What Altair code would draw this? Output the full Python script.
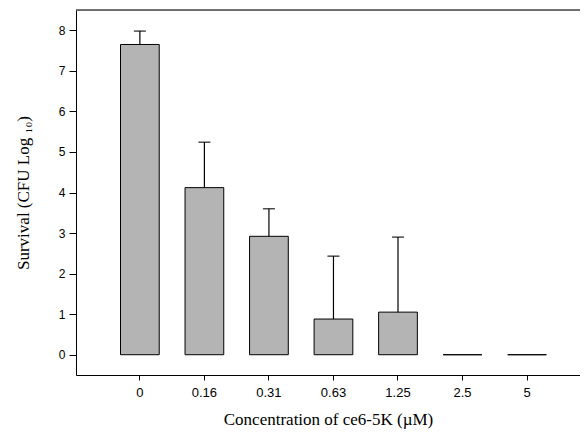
import altair as alt
import pandas as pd

conc = ["0", "0.16", "0.31", "0.63", "1.25", "2.5", "5"]
survival = [7.65, 4.12, 2.92, 0.88, 1.05, 0.0, 0.0]
err_top = [7.98, 5.24, 3.60, 2.43, 2.90, 0.0, 0.0]

df = pd.DataFrame({"conc": conc, "surv": survival, "err": err_top})

W, H = 504, 365

xenc = alt.X(
    "conc:N",
    sort=conc,
    scale=alt.Scale(paddingInner=0.4, paddingOuter=0.605, align=0.57),
    axis=alt.Axis(
        title="Concentration of ce6-5K (\u00b5M)",
        labelAngle=0,
        labelFont="Liberation Sans",
        labelFontSize=13,
        labelColor="black",
        labelPadding=6,
        tickSize=5,
        tickColor="black",
        domainColor="black",
        titleFont="Liberation Serif",
        titleFontSize=17,
        titleFontWeight="normal",
        titleColor="black",
        titlePadding=12,
    ),
)

yscale = alt.Scale(domain=[-0.5, 8.5], nice=False, zero=False)
yaxis = alt.Axis(
    title="Survival (CFU Log \u2081\u2080)",
    values=[0, 1, 2, 3, 4, 5, 6, 7, 8],
    grid=False,
    labelFont="Liberation Sans",
    labelFontSize=12,
    labelColor="black",
    labelPadding=4,
    tickSize=7,
    tickColor="black",
    domainColor="black",
    titleFont="Liberation Serif",
    titleFontSize=17,
    titleFontWeight="normal",
    titleColor="black",
    titlePadding=26,
)

base = alt.Chart(df)

bars = base.mark_bar(color="#b4b4b4", stroke="black", strokeWidth=1).encode(
    x=xenc,
    y=alt.Y("surv:Q", scale=yscale, axis=yaxis),
    y2=alt.datum(0),
)

errs = base.transform_filter("datum.err > 0")

rules = errs.mark_rule(color="black", strokeWidth=1.2).encode(
    x=alt.X("conc:N", sort=conc),
    y="surv:Q",
    y2="err:Q",
)

caps = errs.mark_tick(color="black", size=12, thickness=1.5).encode(
    x=alt.X("conc:N", sort=conc),
    y="err:Q",
)

top = alt.Chart(pd.DataFrame({"a": [0]})).mark_rule(color="#444444", strokeWidth=1.5).encode(
    x=alt.value(0), x2=alt.value(W), y=alt.value(0)
)

chart = (
    alt.layer(bars, rules, caps, top)
    .properties(
        width=W,
        height=H,
        autosize=alt.AutoSizeParams(type="none"),
        padding={"left": 68, "top": 2, "right": 0, "bottom": 64},
    )
    .configure_view(stroke=None)
    .configure(background="white")
)

chart.save("out.html", embed_options={"renderer": "svg", "actions": False})
